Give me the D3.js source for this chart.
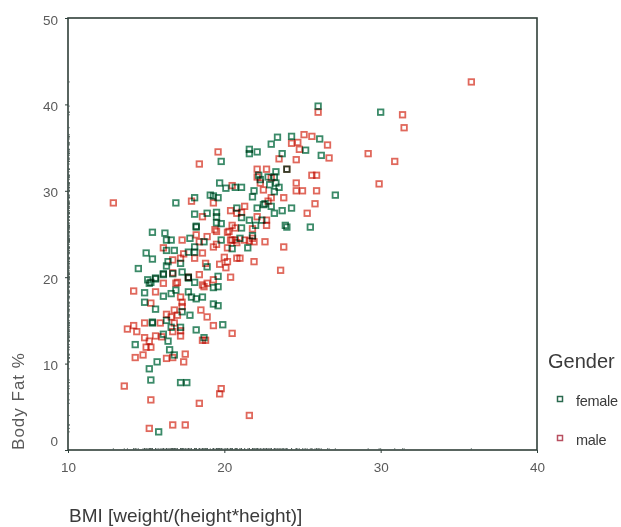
<!DOCTYPE html>
<html>
<head>
    <title>Body fat by BMI</title>
    <script src="https://d3js.org/d3.v7.min.js"></script>
    <style>
        html, body { margin: 0; padding: 0; background-color: white; }
        svg { display: block; font-family: "Liberation Sans", Arial, sans-serif; }
        .dot { fill: none; stroke-width: 1.8; mix-blend-mode: multiply; }
        .tick-label text { fill: #5a5a5a; font-size: 13.5px; }
    </style>
</head>
<body>
    <div id="chart"></div>
    <script>
        var genders = ["female", "male"];
        var gender_colors = ["#3a8a68", "#e0685c"];
        var x_ticks = [10, 20, 30, 40];
        var y_ticks = [0, 10, 20, 30, 40, 50];

        // [bmi, body fat %]
        var female_points = [
            [19.8,33.4],[19.7,30.9],[20.1,30.3],[16.9,28.6],[18.1,29.2],[19.1,29.5],[19.3,29.4],[19.6,29.2],
            [18.1,27.3],[18.9,27.4],[19.5,27.5],[19.5,27.0],[19.5,26.3],[19.8,26.2],[20.8,28.0],[18.2,25.8],
            [18.2,25.9],[15.4,25.2],[16.2,25.1],[16.6,24.3],[16.3,24.3],[17.8,24.5],[18.7,24.1],[19.8,24.3],
            [20.5,23.3],[16.3,23.1],[16.8,23.1],[17.7,22.9],[18.1,23.5],[18.1,22.9],[15.0,22.8],[15.4,22.1],
            [16.4,21.8],[17.2,21.6],[18.9,21.2],[16.3,21.3],[14.5,21.0],[16.1,20.4],[15.6,19.9],[17.3,20.6],
            [17.7,20.0],[19.6,20.1],[15.1,19.7],[15.6,19.8],[15.2,19.3],[15.3,19.4],[16.1,20.3],[16.7,20.4],
            [18.1,19.4],[17.7,19.9],[19.6,18.9],[19.3,18.8],[14.9,18.2],[16.1,17.8],[16.6,18.1],[16.9,18.5],
            [17.7,18.3],[17.9,17.7],[18.2,17.5],[18.6,17.7],[14.9,17.1],[15.6,16.3],[19.3,16.9],[19.6,16.7],
            [17.3,16.0],[17.8,15.6],[15.4,14.8],[15.4,14.7],[16.3,15.0],[19.9,14.5],[16.6,14.2],[17.2,14.2],
            [18.2,13.9],[16.1,13.4],[18.7,13.0],[16.4,12.6],[14.3,12.2],[16.5,11.6],[16.8,11.0],[15.7,10.2],
            [15.2,9.4],[15.3,8.1],[17.2,7.8],[17.6,7.8],[15.8,2.1],[26.0,39.8],[30.0,39.1],[23.4,36.2],
            [23.0,35.4],[24.3,36.3],[26.1,36.0],[25.2,34.7],[21.6,34.8],[21.6,34.3],[22.1,34.5],[23.7,34.3],
            [26.2,34.1],[24.0,32.5],[23.3,32.2],[22.2,31.8],[22.3,31.3],[22.8,31.6],[23.2,31.6],[22.9,30.7],
            [23.3,30.9],[20.7,30.4],[21.1,30.4],[21.9,30.0],[21.8,29.3],[23.5,30.4],[23.2,29.9],[27.1,29.5],
            [22.6,28.5],[23.0,28.2],[24.3,28.0],[23.7,27.7],[23.2,27.4],[22.1,28.0],[22.5,28.4],[21.1,26.9],
            [21.6,26.6],[22.4,26.6],[22.0,26.0],[21.1,25.7],[21.8,24.8],[23.9,26.0],[24.0,25.8],[25.5,25.8],
            [21.0,24.5],[21.5,23.4]
        ];
        var male_points = [
            [19.6,34.5],[18.4,33.1],[20.5,30.6],[12.9,28.6],[17.9,28.8],[19.3,28.6],[18.6,27.0],[20.4,27.7],
            [20.8,27.4],[20.5,26.0],[19.5,25.3],[20.2,25.2],[17.3,24.3],[18.2,24.9],[18.9,24.7],[18.4,24.1],
            [19.5,23.8],[19.3,23.5],[20.5,24.3],[16.1,23.4],[17.4,22.7],[18.6,22.8],[16.7,22.0],[17.2,22.2],
            [18.1,22.2],[20.0,22.3],[20.2,21.8],[19.7,21.5],[18.8,21.6],[20.1,21.1],[16.7,20.5],[18.4,20.3],
            [20.4,20.0],[16.1,19.3],[17.0,19.4],[16.9,19.3],[17.7,20.0],[18.6,19.1],[18.9,19.3],[19.3,19.7],
            [18.7,18.9],[14.2,18.4],[15.6,18.3],[17.2,17.7],[15.3,17.0],[17.3,17.1],[17.3,16.6],[18.5,16.2],
            [16.8,16.2],[16.3,15.7],[16.6,15.4],[17.0,15.6],[18.9,15.4],[14.9,14.7],[15.9,14.7],[16.8,14.7],
            [14.2,14.4],[13.8,14.0],[14.4,13.7],[19.3,14.4],[16.7,13.7],[17.2,13.8],[20.5,13.5],[14.9,13.0],
            [15.6,13.2],[16.0,13.1],[17.2,13.2],[18.6,12.7],[18.8,12.7],[15.2,12.6],[15.0,11.9],[15.3,11.9],
            [14.8,11.0],[14.3,10.7],[16.7,10.7],[16.3,10.6],[17.5,11.1],[17.4,10.2],[13.6,7.4],[19.8,7.1],
            [19.7,6.5],[15.3,5.8],[18.4,5.4],[16.7,2.9],[17.5,2.9],[15.2,2.5],[21.6,4.0],[26.0,39.1],
            [35.8,42.6],[31.4,38.8],[31.5,37.3],[29.2,34.3],[30.9,33.4],[29.9,30.8],[24.3,35.5],[24.7,35.6],
            [25.1,36.5],[25.6,36.3],[26.6,35.3],[24.8,34.8],[23.5,33.7],[26.7,33.8],[24.6,33.6],[22.1,32.5],
            [22.7,32.5],[24.0,32.5],[22.1,31.6],[22.3,30.9],[23.0,31.5],[25.6,31.8],[25.9,31.8],[22.5,30.1],
            [24.6,30.9],[24.6,30.0],[25.0,30.0],[25.9,30.0],[23.8,29.2],[25.8,28.5],[23.0,29.2],[22.8,28.8],
            [25.3,27.4],[21.3,28.2],[21.1,27.5],[22.1,27.0],[22.7,26.6],[22.7,26.0],[20.3,25.3],[21.8,25.6],
            [21.8,24.5],[21.3,24.3],[21.6,24.2],[21.9,24.1],[22.6,24.1],[20.8,24.0],[23.8,23.5],[20.2,23.4],
            [21.9,21.8],[23.6,20.8],[20.8,22.2],[21.0,22.2],[19.4,25.5],[20.4,24.3],[20.7,24.3],[20.7,25.7]
        ];

        var width = 621, height = 527;
        var plot = { left: 68, right: 537, top: 18, bottom: 450 };

        var svg = d3.select("#chart").append("svg")
                    .attr("width", width)
                    .attr("height", height);

        // reference is a soft scan, a slight blur gets the same look
        svg.append("filter").attr("id", "soft")
           .append("feGaussianBlur").attr("stdDeviation", 0.45);
        var board = svg.append("g").attr("filter", "url(#soft)");

        var x = d3.scaleLinear().domain([10, 40]).range([plot.left, plot.right]);
        var y = d3.scaleLinear().domain([0, 50]).range([plot.bottom, plot.top]);

        function draw_points(points, color, size)
        {
            board.append("g").selectAll("rect")
                 .data(points)
                 .enter().append("rect")
                 .attr("class", "dot")
                 .attr("x", function(d){ return x(d[0]) - size / 2; })
                 .attr("y", function(d){ return y(d[1]) - size / 2; })
                 .attr("width", size)
                 .attr("height", size)
                 .attr("stroke", color);
        }

        draw_points(male_points, gender_colors[1], 5.5);
        draw_points(female_points, gender_colors[0], 5.5);

        // frame
        board.append("rect")
             .attr("x", plot.left)
             .attr("y", plot.top)
             .attr("width", plot.right - plot.left)
             .attr("height", plot.bottom - plot.top)
             .attr("fill", "none")
             .attr("stroke", "#2f3f3a")
             .attr("stroke-width", 1.6);

        var x_axis = board.append("g")
                          .attr("class", "tick-label")
                          .attr("transform", "translate(0," + plot.bottom + ")")
                          .call(d3.axisBottom(x).tickValues(x_ticks).tickSize(3).tickPadding(9));
        var y_axis = board.append("g")
                          .attr("class", "tick-label")
                          .attr("transform", "translate(" + plot.left + ",0)")
                          .call(d3.axisLeft(y).tickValues(y_ticks).tickSize(3).tickPadding(7));
        x_axis.select(".domain").remove();
        y_axis.select(".domain").remove();
        x_axis.selectAll("line").attr("stroke", "#2f3f3a");
        y_axis.selectAll("line").attr("stroke", "#2f3f3a");
        // the 0 label sits above the corner in the original
        y_axis.selectAll(".tick text").attr("dy", function(d){ return d === 0 ? "-0.3em" : "0.45em"; });

        // rug marks along the axes
        var all_points = female_points.concat(male_points);
        var rug = board.append("g").attr("stroke", "#4a5a55").attr("stroke-width", 0.7);
        rug.selectAll(".rug-x").data(all_points).enter().append("line")
           .attr("x1", function(d){ return x(d[0]); })
           .attr("x2", function(d){ return x(d[0]); })
           .attr("y1", plot.bottom - 2)
           .attr("y2", plot.bottom);
        rug.selectAll(".rug-y").data(all_points).enter().append("line")
           .attr("x1", plot.left)
           .attr("x2", plot.left + 2)
           .attr("y1", function(d){ return y(d[1]); })
           .attr("y2", function(d){ return y(d[1]); });

        board.append("text")
             .attr("transform", "translate(24,401) rotate(-90)")
             .attr("text-anchor", "middle")
             .attr("font-size", 17)
             .attr("letter-spacing", 1)
             .attr("fill", "#5a5a5a")
             .text("Body Fat %");

        board.append("text")
             .attr("x", 69)
             .attr("y", 522)
             .attr("font-size", 19)
             .attr("fill", "#3a3a3a")
             .text("BMI [weight/(height*height)]");

        // legend
        board.append("text")
             .attr("x", 548)
             .attr("y", 368)
             .attr("font-size", 20)
             .attr("fill", "#3a3a3a")
             .text("Gender");

        var legend_y = d3.scalePoint().domain(genders).range([399, 438]);
        genders.forEach(function(g, i){
            board.append("rect")
                 .attr("x", 557.5)
                 .attr("y", legend_y(g) - 2.5)
                 .attr("width", 5)
                 .attr("height", 5)
                 .attr("fill", "none")
                 .attr("stroke", i == 0 ? "#2c6a50" : "#b85060")
                 .attr("stroke-width", 1.5);
            board.append("text")
                 .attr("x", 576)
                 .attr("y", legend_y(g) + 7)
                 .attr("font-size", 14.5)
                 .attr("letter-spacing", -0.3)
                 .attr("fill", "#3a3a3a")
                 .text(g);
        });
    </script>
</body>
</html>
